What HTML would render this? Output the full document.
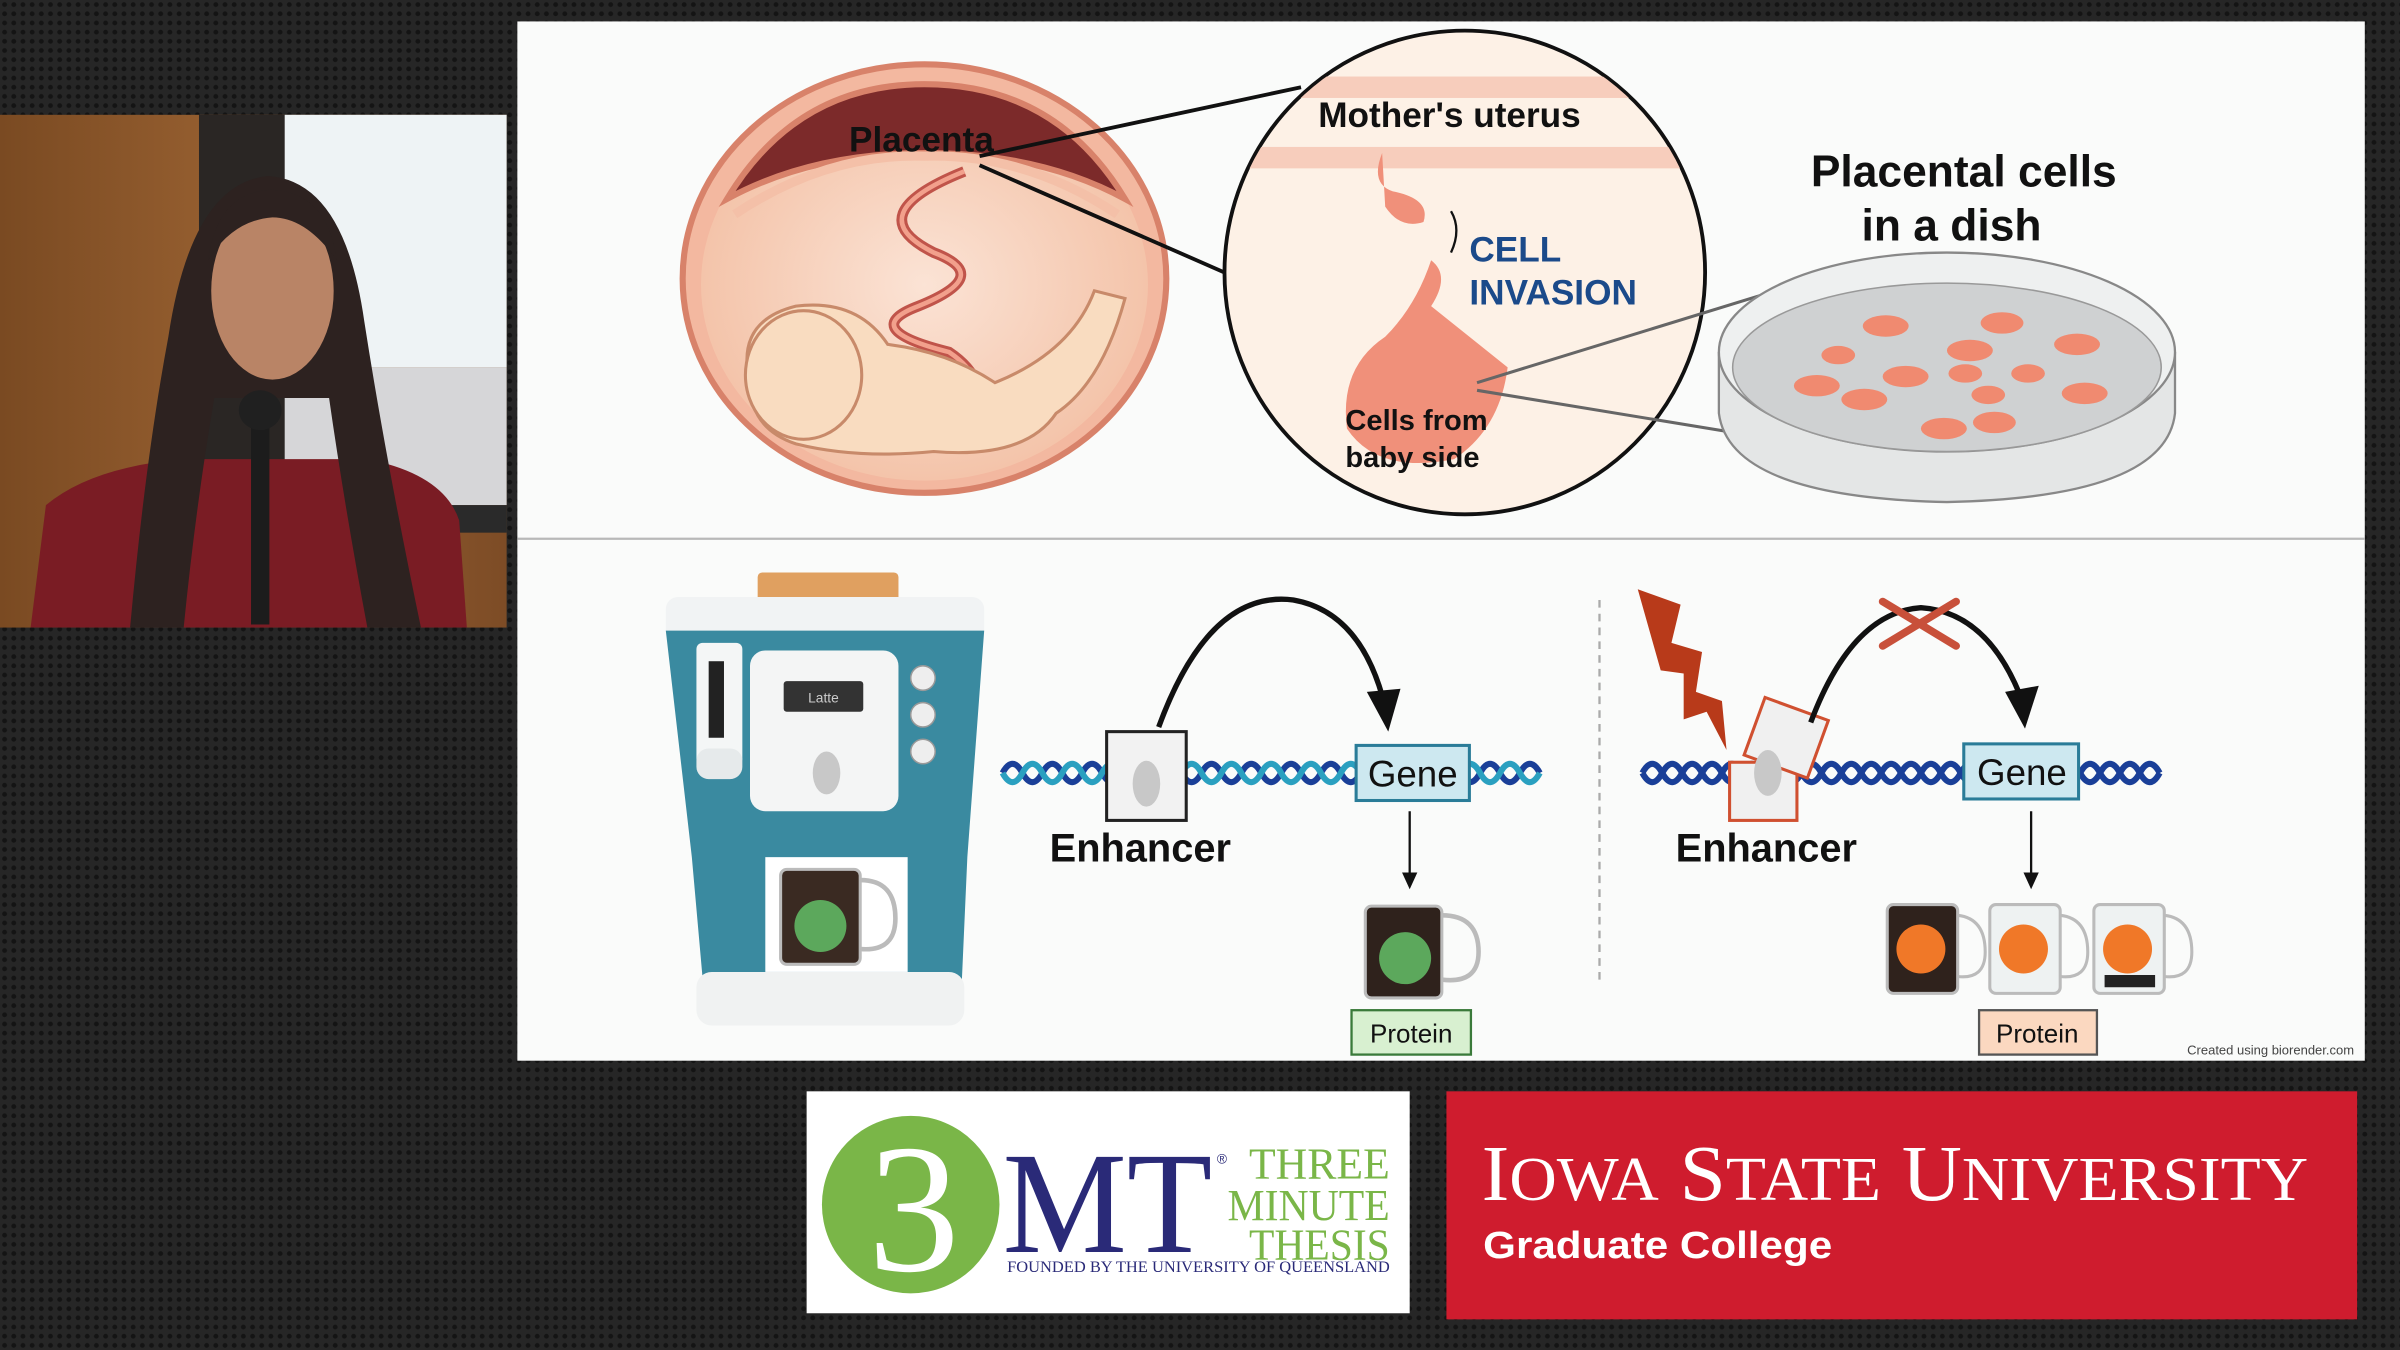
<!DOCTYPE html>
<html><head><meta charset="utf-8"><style>
html,body{margin:0;padding:0;background:#1c1c1c;}
svg{display:block;}
.s{font-family:"Liberation Sans",sans-serif;}
.r{font-family:"Liberation Serif",serif;}
</style></head><body>
<svg width="2400" height="1350" viewBox="0 0 1568 882" preserveAspectRatio="none" xmlns="http://www.w3.org/2000/svg" class="s">
<defs>
<pattern id="dots" width="6" height="6" patternUnits="userSpaceOnUse"><rect width="6" height="6" fill="#262626"/><circle cx="3" cy="3" r="1.6" fill="#141414"/></pattern>
<linearGradient id="wood" x1="0" x2="1"><stop offset="0" stop-color="#7a4a22"/><stop offset="0.5" stop-color="#9a6232"/><stop offset="1" stop-color="#7d4c26"/></linearGradient>
<radialGradient id="fl" cx="0.5" cy="0.5" r="0.5"><stop offset="0" stop-color="#fbe3d5"/><stop offset="1" stop-color="#f4c4aa"/></radialGradient>
</defs>
<rect width="1568" height="882" fill="url(#dots)"/>

<!-- speaker -->
<rect x="0" y="75" width="331" height="335" fill="url(#wood)"/>
<rect x="130" y="75" width="60" height="240" fill="#2a2624"/>
<rect x="186" y="75" width="145" height="165" fill="#eef3f5"/>
<rect x="186" y="240" width="145" height="90" fill="#d6d6d8"/>
<rect x="186" y="330" width="145" height="18" fill="#2a2a2a"/>
<path d="M20 410 L30 330 Q60 305 120 300 L240 300 Q290 310 300 340 L305 410 Z" fill="#7a1c24"/>
<path d="M85 410 Q95 300 110 220 Q125 120 175 115 Q225 118 238 210 Q252 300 275 410 L240 410 Q225 330 215 260 L140 260 Q128 330 120 410 Z" fill="#2d2220"/>
<ellipse cx="178" cy="190" rx="40" ry="58" fill="#b98466"/>
<path d="M136 170 Q142 125 178 124 Q214 126 220 170 Q200 142 178 142 Q152 144 136 170Z" fill="#2d2220"/>
<rect x="164" y="268" width="12" height="140" fill="#1c1c1c"/>
<ellipse cx="170" cy="268" rx="14" ry="13" fill="#202020"/>

<!-- slide -->
<rect x="338" y="14" width="1207" height="679" fill="#fafbfa"/>
<line x1="338" y1="352" x2="1545" y2="352" stroke="#b8b8b8" stroke-width="1.5"/>

<!-- uterus -->
<ellipse cx="604" cy="182" rx="158" ry="140" fill="#f3b8a0" stroke="#d8826a" stroke-width="4"/>
<ellipse cx="604" cy="186" rx="146" ry="128" fill="url(#fl)"/>
<path d="M475 130 Q520 55 604 55 Q690 55 735 130 Q680 100 604 100 Q530 100 475 130Z" fill="#7c2a2a" stroke="#d8826a" stroke-width="4"/>
<path d="M480 140 Q540 100 604 102 Q670 100 730 140" fill="none" stroke="#f4c0a8" stroke-width="6"/>
<path d="M630 112 Q560 140 610 165 Q650 180 600 200 Q560 215 620 230 Q650 250 635 280" fill="none" stroke="#c0544a" stroke-width="7"/>
<path d="M630 112 Q560 140 610 165 Q650 180 600 200 Q560 215 620 230 Q650 250 635 280" fill="none" stroke="#f2a08c" stroke-width="3"/>
<path d="M490 250 Q480 210 520 200 Q560 195 580 225 Q620 230 650 250 Q700 230 715 190 L735 195 Q720 250 690 270 Q670 300 610 295 Q560 300 520 290 Q490 280 490 250Z" fill="#f9dcc0" stroke="#c88a6a" stroke-width="2"/>
<ellipse cx="525" cy="245" rx="38" ry="42" fill="#f9dcc0" stroke="#c88a6a" stroke-width="2"/>
<text x="602" y="99" font-size="23" font-weight="bold" text-anchor="middle" fill="#111">Placenta</text>
<line x1="640" y1="102" x2="850" y2="57" stroke="#111" stroke-width="2.5"/>
<line x1="640" y1="108" x2="800" y2="178" stroke="#111" stroke-width="2.5"/>

<!-- circle zoom -->
<ellipse cx="957" cy="178" rx="157" ry="158" fill="#fdf1e6" stroke="#111" stroke-width="2.5"/>
<clipPath id="cc"><ellipse cx="957" cy="178" rx="156" ry="157"/></clipPath>
<g clip-path="url(#cc)">
<rect x="795" y="50" width="330" height="14" fill="#f7cdbc"/>
<rect x="795" y="96" width="330" height="14" fill="#f7cdbc"/>
</g>
<text x="947" y="83" font-size="23" font-weight="bold" text-anchor="middle" fill="#111">Mother's uterus</text>
<path d="M903 100 Q895 120 910 125 Q935 130 930 145 Q915 150 905 135Z" fill="#f0907a"/>
<path d="M935 170 Q948 180 935 200 Q960 220 985 240 Q980 280 950 300 Q900 310 880 280 Q875 240 905 220 Q925 200 935 170Z" fill="#f0907a"/>
<path d="M948 165 Q955 150 948 138" fill="none" stroke="#111" stroke-width="1.5"/>
<text x="960" y="171" font-size="23" font-weight="bold" fill="#1b4a8a">CELL</text>
<text x="960" y="199" font-size="23" font-weight="bold" fill="#1b4a8a">INVASION</text>
<text x="879" y="281" font-size="19" font-weight="bold" fill="#111">Cells from</text>
<text x="879" y="305" font-size="19" font-weight="bold" fill="#111">baby side</text>
<line x1="965" y1="250" x2="1160" y2="190" stroke="#666" stroke-width="2"/>
<line x1="965" y1="255" x2="1135" y2="283" stroke="#666" stroke-width="2"/>

<!-- dish -->
<text x="1283" y="122" font-size="29" font-weight="bold" text-anchor="middle" fill="#111">Placental cells</text>
<text x="1275" y="157" font-size="29" font-weight="bold" text-anchor="middle" fill="#111">in a dish</text>
<path d="M1123 230 L1123 270 Q1130 325 1272 328 Q1415 325 1421 270 L1421 230" fill="#e4e6e6" stroke="#888" stroke-width="1.5"/>
<ellipse cx="1272" cy="230" rx="149" ry="65" fill="#eef0f0" stroke="#888" stroke-width="1.5"/>
<ellipse cx="1272" cy="240" rx="140" ry="55" fill="#cfd1d2" stroke="#999" stroke-width="1"/>
<g fill="#f08a70"><ellipse cx="1232" cy="213" rx="15" ry="7"/><ellipse cx="1308" cy="211" rx="14" ry="7"/><ellipse cx="1201" cy="232" rx="11" ry="6"/><ellipse cx="1287" cy="229" rx="15" ry="7"/><ellipse cx="1357" cy="225" rx="15" ry="7"/><ellipse cx="1245" cy="246" rx="15" ry="7"/><ellipse cx="1284" cy="244" rx="11" ry="6"/><ellipse cx="1325" cy="244" rx="11" ry="6"/><ellipse cx="1187" cy="252" rx="15" ry="7"/><ellipse cx="1218" cy="261" rx="15" ry="7"/><ellipse cx="1299" cy="258" rx="11" ry="6"/><ellipse cx="1362" cy="257" rx="15" ry="7"/><ellipse cx="1270" cy="280" rx="15" ry="7"/><ellipse cx="1303" cy="276" rx="14" ry="7"/></g>

<!-- coffee machine -->
<rect x="495" y="374" width="92" height="22" rx="3" fill="#e0a060"/>
<rect x="435" y="390" width="208" height="30" rx="8" fill="#f1f3f4"/>
<path d="M435 412 L643 412 L632 560 L628 650 L460 650 L452 560 Z" fill="#3a8aa0"/>
<rect x="455" y="420" width="30" height="80" rx="4" fill="#f4f6f6"/>
<rect x="463" y="432" width="10" height="50" fill="#222"/>
<rect x="490" y="425" width="97" height="105" rx="10" fill="#f4f5f5"/>
<rect x="512" y="445" width="52" height="20" rx="2" fill="#333"/>
<text x="538" y="459" font-size="9" text-anchor="middle" fill="#ccc">Latte</text>
<ellipse cx="540" cy="505" rx="9" ry="14" fill="#c8c8c8"/>
<g fill="#eeeeee" stroke="#999"><circle cx="603" cy="443" r="8"/><circle cx="603" cy="467" r="8"/><circle cx="603" cy="491" r="8"/></g>
<rect x="455" y="489" width="30" height="20" rx="8" fill="#e6eaeb"/>
<rect x="500" y="560" width="93" height="75" fill="#fff"/>
<rect x="510" y="568" width="52" height="62" rx="4" fill="#3a2a22" stroke="#bbb" stroke-width="2"/>
<circle cx="536" cy="605" r="17" fill="#5ca85c"/>
<path d="M562 575 Q585 575 585 600 Q585 622 562 620" fill="none" stroke="#bbb" stroke-width="3"/>
<rect x="455" y="635" width="175" height="35" rx="10" fill="#f0f2f2"/>

<!-- left DNA -->
<path d="M655 505 q6.5,-12 13,0 t13,0 t13,0 t13,0 t13,0 t13,0 t13,0 t13,0 t13,0 t13,0 t13,0 t13,0 t13,0 t13,0 t13,0 t13,0 t13,0 t13,0 t13,0 t13,0 t13,0 t13,0 t13,0 t13,0 t13,0 t13,0 t13,0" fill="none" stroke="#1a3f98" stroke-width="4"/>
<path d="M655 505 q6.5,12 13,0 t13,0 t13,0 t13,0 t13,0 t13,0 t13,0 t13,0 t13,0 t13,0 t13,0 t13,0 t13,0 t13,0 t13,0 t13,0 t13,0 t13,0 t13,0 t13,0 t13,0 t13,0 t13,0 t13,0 t13,0 t13,0 t13,0" fill="none" stroke="#2aa0c0" stroke-width="4"/>
<rect x="723" y="478" width="52" height="58" fill="#f2f2f2" stroke="#222" stroke-width="2"/>
<ellipse cx="749" cy="512" rx="9" ry="15" fill="#c8c8c8"/>
<rect x="886" y="487" width="74" height="36" fill="#cde8f0" stroke="#2a7c98" stroke-width="2"/>
<text x="923" y="514" font-size="24" text-anchor="middle" fill="#111">Gene</text>
<text x="745" y="563" font-size="26" font-weight="bold" text-anchor="middle" fill="#111">Enhancer</text>
<path d="M757 475 Q790 385 845 392 Q890 400 905 462" fill="none" stroke="#111" stroke-width="3.5"/>
<path d="M893 452 L907 478 L915 450 Z" fill="#111"/>
<line x1="921" y1="530" x2="921" y2="573" stroke="#111" stroke-width="1.5"/>
<path d="M916 570 L921 581 L926 570Z" fill="#111"/>
<rect x="892" y="592" width="50" height="60" rx="4" fill="#2f221c" stroke="#bbb" stroke-width="2"/>
<circle cx="918" cy="626" r="17" fill="#5ca85c"/>
<path d="M942 598 Q966 598 966 622 Q966 643 942 640" fill="none" stroke="#bbb" stroke-width="3"/>
<rect x="883" y="660" width="78" height="29" fill="#d8f0d0" stroke="#3a7a3a" stroke-width="1.5"/>
<text x="922" y="681" font-size="17" text-anchor="middle" fill="#111">Protein</text>

<line x1="1045" y1="392" x2="1045" y2="640" stroke="#aaa" stroke-width="1.5" stroke-dasharray="5,4"/>

<!-- right DNA -->
<path d="M1073 505 q6.5,-12 13,0 t13,0 t13,0 t13,0 t13,0 t13,0 t13,0 t13,0 t13,0 t13,0 t13,0 t13,0 t13,0 t13,0 t13,0 t13,0 t13,0 t13,0 t13,0 t13,0 t13,0 t13,0 t13,0 t13,0 t13,0 t13,0" fill="none" stroke="#1a3f98" stroke-width="4"/>
<path d="M1073 505 q6.5,12 13,0 t13,0 t13,0 t13,0 t13,0 t13,0 t13,0 t13,0 t13,0 t13,0 t13,0 t13,0 t13,0 t13,0 t13,0 t13,0 t13,0 t13,0 t13,0 t13,0 t13,0 t13,0 t13,0 t13,0 t13,0 t13,0" fill="none" stroke="#1a3f98" stroke-width="4"/>
<path d="M1070 385 L1098 395 L1092 420 L1112 426 L1108 452 L1125 458 L1128 490 L1115 465 L1100 470 L1100 440 L1085 438 Z" fill="#b83a1a"/>
<rect x="1130" y="498" width="44" height="38" fill="#f0f0f0" stroke="#d05030" stroke-width="2"/>
<rect x="1145" y="462" width="44" height="40" fill="#f0f0f0" stroke="#d05030" stroke-width="2" transform="rotate(20 1167 482)"/>
<ellipse cx="1155" cy="505" rx="9" ry="15" fill="#c8c8c8"/>
<rect x="1283" y="486" width="75" height="36" fill="#cde8f0" stroke="#2a7c98" stroke-width="2"/>
<text x="1321" y="513" font-size="24" text-anchor="middle" fill="#111">Gene</text>
<text x="1154" y="563" font-size="26" font-weight="bold" text-anchor="middle" fill="#111">Enhancer</text>
<path d="M1183 472 Q1210 400 1255 397 Q1300 400 1322 460" fill="none" stroke="#111" stroke-width="3.5"/>
<path d="M1310 452 L1323 476 L1332 448 Z" fill="#111"/>
<path d="M1230 393 L1278 422 M1278 393 L1230 422" stroke="#c8503a" stroke-width="5" stroke-linecap="round"/>
<line x1="1327" y1="530" x2="1327" y2="572" stroke="#111" stroke-width="1.5"/>
<path d="M1322 570 L1327 581 L1332 570Z" fill="#111"/>
<g stroke="#bbb" stroke-width="2" fill="none">
<rect x="1233" y="591" width="46" height="58" rx="4" fill="#2f221c"/>
<path d="M1279 598 Q1297 600 1297 622 Q1297 640 1279 638"/>
<rect x="1300" y="591" width="46" height="58" rx="4" fill="#eef2f2"/>
<path d="M1346 598 Q1364 600 1364 622 Q1364 640 1346 638"/>
<rect x="1368" y="591" width="46" height="58" rx="4" fill="#eef2f2"/>
<path d="M1414 598 Q1432 600 1432 622 Q1432 640 1414 638"/>
</g>
<rect x="1375" y="637" width="33" height="8" fill="#222"/>
<g fill="#f07828"><circle cx="1255" cy="620" r="16"/><circle cx="1322" cy="620" r="16"/><circle cx="1390" cy="620" r="16"/></g>
<rect x="1293" y="660" width="77" height="29" fill="#fbd8c0" stroke="#555" stroke-width="1.5"/>
<text x="1331" y="681" font-size="17" text-anchor="middle" fill="#111">Protein</text>
<text x="1538" y="689" font-size="8.5" text-anchor="end" fill="#444">Created using biorender.com</text>

<!-- 3MT logo -->
<rect x="527" y="713" width="394" height="145" fill="#fff"/>
<circle cx="595" cy="787" r="58" fill="#7ab648"/>
<text x="597" y="830" font-size="120" class="r" text-anchor="middle" fill="#fff">3</text>
<text x="655" y="818" font-size="95" class="r" fill="#2a2a78" textLength="137" lengthAdjust="spacingAndGlyphs">MT</text>
<text x="795" y="760" font-size="9" fill="#2a2a78">®</text>
<g class="r" font-size="29" fill="#7ab648" text-anchor="end">
<text x="908" y="770" textLength="92" lengthAdjust="spacingAndGlyphs">THREE</text>
<text x="908" y="797" textLength="106" lengthAdjust="spacingAndGlyphs">MINUTE</text>
<text x="908" y="823" textLength="92" lengthAdjust="spacingAndGlyphs">THESIS</text></g>
<text x="658" y="831" class="r" font-size="10.5" fill="#2a2a78" textLength="250" lengthAdjust="spacingAndGlyphs">FOUNDED BY THE UNIVERSITY OF QUEENSLAND</text>

<!-- ISU -->
<rect x="945" y="713" width="595" height="149" fill="#cf1c2e"/>
<text x="968" y="784" class="r" font-size="52" fill="#fff" textLength="540" lengthAdjust="spacingAndGlyphs">I<tspan font-size="41">OWA</tspan> S<tspan font-size="41">TATE</tspan> U<tspan font-size="41">NIVERSITY</tspan></text>
<text x="969" y="822" font-size="25" font-weight="bold" fill="#fff" textLength="228" lengthAdjust="spacingAndGlyphs">Graduate College</text>
</svg>
</body></html>
